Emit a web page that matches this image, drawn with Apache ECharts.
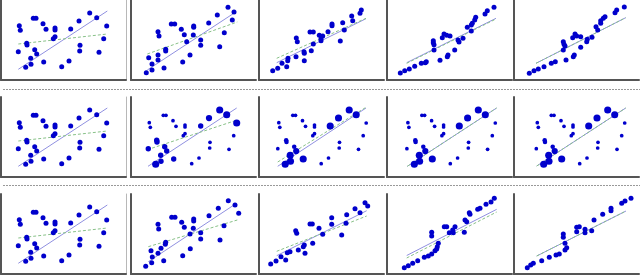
<!DOCTYPE html>
<html><head><meta charset="utf-8">
<script src="https://cdn.jsdelivr.net/npm/echarts@6/dist/echarts.min.js"></script>
<style>html,body{margin:0;padding:0;background:#fff}#c{width:640px;height:275px}</style>
</head><body><div id="c"></div>
<script>
// ---- data (x from panel's left axis, y from panel's bottom axis) ----
const r1c1 = [[32.3,61.7],[35,61.7],[18.3,54.3],[19.3,49.7],[42,56.3],[45,50.7],[54,52],[54,50],[54,43.3],[52.3,41.3],[78,59],[88.7,67],[95.7,62.3],[105.7,54],[69.7,51],[102.7,41.3],[25.7,36.7],[26,35],[17.3,28.3],[33.7,30.3],[35.7,26],[29.7,21.7],[30,15.7],[24.7,12.7],[42.7,18],[60.7,13.3],[68,19],[79,34.7],[78.7,29],[98,27.7]];
const r1c2 = [[97,72.7],[103,68],[86.3,65],[101.3,60],[40.3,56],[43.7,56],[50.3,50.7],[62.7,54],[62.7,52.7],[77.7,57],[27,48.3],[28,44],[53.3,45.3],[62.3,45],[93.3,47.3],[69.7,40],[55.7,38.3],[69.7,34.7],[88.7,33.3],[34.7,30.7],[34.7,29],[27,25],[59,25],[17.7,22.3],[27,20],[21,16],[51.7,18],[33,12],[21,10],[15.3,7.3]];
const r1c3 = [[102.3,70],[101,66.7],[92.7,64],[93.7,59.3],[83.7,57.3],[73,56],[73,54.3],[85.3,50],[69,48.3],[51,48],[54.3,48],[60.3,44.7],[63.7,44],[62,41.3],[62,39.3],[37.3,42],[38.3,38.3],[54.3,36],[81.3,39],[52.3,29.3],[45,28.3],[45.3,26.7],[37,23.3],[29,21.7],[28.7,19.3],[23,16.7],[45.3,19.3],[27.7,13.3],[18.7,11.7],[13.7,9.3]];
const r1c4 = [[107,72.7],[100.3,69.3],[98,66],[88.7,62.7],[87.7,60],[85.3,56.7],[84.3,55],[80.3,52.7],[84.3,49],[76,41.7],[71,40],[72,38],[57,46],[59.7,44.7],[63,44],[55.3,42.3],[46.3,39.3],[46.3,37.3],[47,35.3],[47,30],[67.7,30],[61,25],[60.3,23.3],[53,19.7],[39.3,18.3],[38.3,17.3],[34.3,16.7],[27.7,13.7],[22.3,11],[17.7,9.3],[13.3,7]];
const r1c5 = [[110.3,73],[102.7,70],[101,67.3],[91,63.3],[89.3,61.7],[86.7,59.3],[86.7,56.7],[82,53.3],[83.7,50],[78,42.7],[73.3,40.7],[72.7,38.3],[66.7,32.7],[61,46],[62.7,44],[66.7,43.3],[58.7,42.3],[49.3,38.3],[50,35.7],[51,34],[49.3,30],[60.3,25],[59.3,23.3],[52,20],[41.3,18.3],[37.3,16.7],[30,13.3],[24.3,11],[20,9.3],[15.3,6.7]];
const r3c2 = [[97.3,73.3],[104,69],[107.7,60.7],[87.3,65.7],[78,58.3],[40.7,56.7],[44,56.7],[50.7,51.7],[27,49.7],[27.7,45],[53.3,46.7],[62.7,55],[62.7,53],[62.3,45.7],[93,48.3],[59,40],[69.7,41.3],[69.7,35],[89,34],[34.7,31.7],[34.3,29.7],[30,25.7],[20,23.3],[27,20.7],[59.3,25.3],[21.3,17],[20.7,11.3],[51.7,18.3],[32.7,13.3],[14.7,7.7]];
const r3c3 = [[11.7,10],[17,13],[22,17.3],[26.7,14],[28.3,21.3],[31,22.3],[39.3,24],[44.3,27.3],[45.3,29],[46,20.7],[36.7,43.3],[37.7,40.7],[51,50],[53.3,50],[53.7,30.7],[60,45.7],[63.7,39.7],[72.7,56.3],[72.7,49.7],[82.7,39],[87,50.7],[87.7,59.3],[96,65.3],[101,61.3],[106,71.3],[108.7,68]];
const r3c4 = [[107.3,75.7],[104,72],[99,69.7],[93,65.7],[90.7,64.7],[82.3,61.3],[83,59.7],[78,54],[79.7,52.3],[77.3,41.7],[68,47.3],[65.7,44],[66.3,41.3],[59.7,47.3],[57.3,47.3],[62.3,41.3],[44.7,41.7],[44.7,38],[51.3,30.7],[50.3,27.3],[49.7,25],[48,23.3],[44.7,20],[41.3,18],[37.3,16.7],[30.7,13.3],[25.7,10.7],[21.3,8.3],[17.3,6.3]];
const r3c5 = [[117,75.7],[111,73],[107.7,70.7],[97,65.7],[97,63.3],[88.7,59.7],[80,54],[77.7,43.3],[71,44.7],[71,41.3],[65.3,47.3],[62.7,46.7],[62.7,42.3],[49.3,40],[49.3,36.7],[51,30.7],[52.7,26.3],[51,24],[45.3,20],[42,19],[35.3,16.7],[27.7,13.3],[19.3,10.7],[16.7,9],[13.3,6.3]];

// row 2: weights on r1c1 points
const w22 = [1,1,1,1,1,1,1,1,1,1,2.5,3,3,3,2,1,2,2,2,2,2,2,2,3,2,1,1,1,1,1];
const w23 = [1,1,1,1,1,1,1,1,1,1,3,3,3,1,3,1,1.5,1.5,1,1.5,2.5,3,3,3,3,1,1,1,1,1];
const w24 = [1,1,1,1,1,1,1,1,1,1,3,3,3,1,3,1,1.5,1.5,1,1.5,2.5,3,3,3,3,1,1,1,1,1];
const w25 = [1,1,1,1,1,1,1,1,1,1,3,3,3,1,3,1,1.5,1.5,1,1.5,2.5,3,3,3,3,1,1,1,1,1];

// fitted lines (two end points)
const blue11 = [[17.3,10.7],[106.3,69]],  green11 = [[17.3,36],[106.3,46]];
const blue12 = [[16.3,10],[103.7,67.3]],  green12 = [[16.3,26],[106.3,58]];
const blue13 = [[17.7,17.3],[107,61.3]],  green13 = [[17.7,21.7],[107,61.7]];
const blue14 = [[19.7,17.3],[109,61.7]],  green14 = [[19.7,16.7],[109,61]];
const blue15 = [[22,16.7],[111.7,62.3]],  green15 = [[22,16.7],[111.7,62.3]];
const blue22 = [[17,10.7],[105.7,69]],    green22 = [[16.3,27.3],[106.3,57]];
const blue23 = [[17.2,10.7],[105.5,69]],  green23 = [[17.2,15],[105.5,69.7]];
const blue24 = [[17.7,10.7],[107,69]],    green24 = [[17.7,10.7],[107,69]];
const blue25 = [[17.7,11],[106.7,69]],    green25 = [[17.7,11],[106.7,69]];
const blue32 = [[17.3,12.3],[104,69.7]],  green32 = [[17.3,27.3],[106.3,54]];
const blue33 = [[17.7,18.3],[107.7,63.3]],green33 = [[17.7,22.7],[107.7,58]];
const blue34 = [[19.7,18.5],[109.7,64.7]],green34 = [[19.7,16],[109.7,62]];
const blue35 = [[22.7,18],[112,63]],      green35 = [[22.7,18],[112,63]];

// ---- layout ----
const lefts = [1,131,259,387,514], tops = [0,97,194], W = 125, H = 80;
const rows = [
  [{p:r1c1,b:blue11,g:green11},{p:r1c2,b:blue12,g:green12},{p:r1c3,b:blue13,g:green13},{p:r1c4,b:blue14,g:green14},{p:r1c5,b:blue15,g:green15}],
  [{p:r1c1,b:blue11,g:green11},{p:r1c1,w:w22,b:blue22,g:green22},{p:r1c1,w:w23,b:blue23,g:green23,xmin:-1.5},{p:r1c1,w:w24,b:blue24,g:green24,xmin:-2.6},{p:r1c1,w:w25,b:blue25,g:green25,xmin:-5}],
  [{p:r1c1,b:blue11,g:green11},{p:r3c2,b:blue32,g:green32},{p:r3c3,b:blue33,g:green33},{p:r3c4,b:blue34,g:green34},{p:r3c5,b:blue35,g:green35}]
];
const grid=[], xAxis=[], yAxis=[], yRight=[], series=[];
let k=0;
const hidden = {axisTick:{show:false}, axisLabel:{show:false}, splitLine:{show:false}};
rows.forEach((row,ri)=>row.forEach((pn,ci)=>{
  grid.push({left:lefts[ci], top:tops[ri], width:W, height:H});
  const xmin = pn.xmin||0;
  const axLine = {show:true, onZero:false, lineStyle:{color:'#555', width:2}};
  xAxis.push(Object.assign({type:'value', gridIndex:k, min:xmin, max:xmin+W, axisLine:axLine}, hidden));
  yAxis.push(Object.assign({type:'value', gridIndex:k, min:0, max:H, axisLine:axLine}, hidden));
  if (ci === 0) {
    yRight.push(Object.assign({type:'value', gridIndex:k, min:0, max:H, position:'right',
      axisLine:{show:true, onZero:false, lineStyle:{color:'#b8b8b8', width:1}}}, hidden));
  }
  series.push({type:'line', xAxisIndex:k, yAxisIndex:k, data:pn.b, symbol:'none', z:2,
    lineStyle:{color:'#9090e0', width:1}});
  series.push({type:'line', xAxisIndex:k, yAxisIndex:k, data:pn.g, symbol:'none', z:2,
    lineStyle:{color:'#88c088', width:1, type:[3,2]}});
  const w = pn.w;
  series.push({type:'scatter', xAxisIndex:k, yAxisIndex:k, z:3,
    data: pn.p.map((d,i)=> w ? [d[0],d[1],w[i]] : d),
    symbolSize: w ? (v)=> 2 + 1.7*v[2] : 5,
    itemStyle:{color:'#0000cc', opacity:1}});
  k++;
}));
const chart = echarts.init(document.getElementById('c'), null, {renderer:'canvas'});
chart.setOption({
  animation:false, grid, xAxis, yAxis: yAxis.concat(yRight), series,
  graphic:[
    {type:'line', shape:{x1:3,y1:89.5,x2:640,y2:89.5}, style:{stroke:'#999', lineWidth:1, lineDash:[2,1]}, silent:true},
    {type:'line', shape:{x1:3,y1:185.5,x2:640,y2:185.5}, style:{stroke:'#999', lineWidth:1, lineDash:[2,1]}, silent:true}
  ]
});
</script></body></html>
